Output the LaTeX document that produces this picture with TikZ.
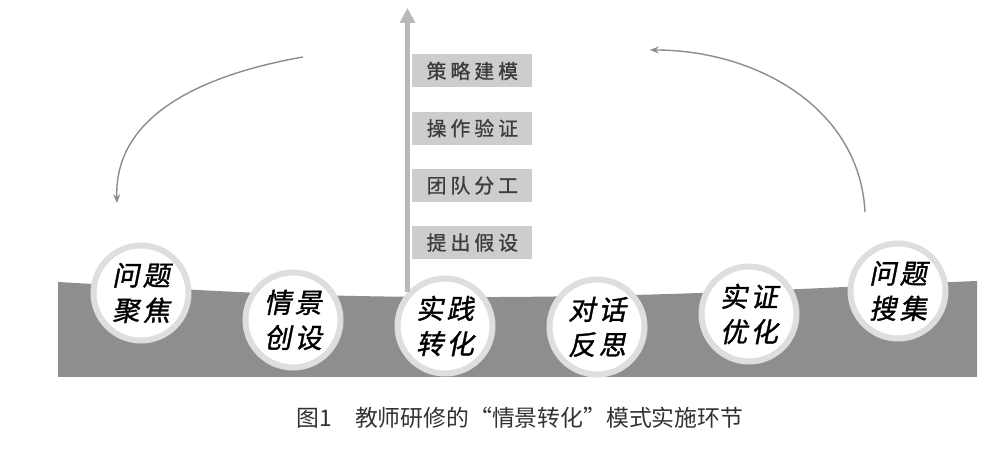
\documentclass[tikz,border=0pt]{standalone}
\usepackage{fontspec}
\usetikzlibrary{positioning,arrows.meta}
\newfontfamily\cjk{Noto Sans CJK SC}
\newfontfamily\cjkit[FakeSlant=0.2,FakeBold=1.2,LetterSpace=12]{Noto Sans CJK SC}
\newfontfamily\cjkbox[FakeBold=0.8,LetterSpace=20]{Noto Sans CJK SC}
\definecolor{bandgray}{RGB}{142,142,142}
\definecolor{halogray}{RGB}{222,222,222}
\definecolor{boxgray}{RGB}{205,205,205}
\definecolor{boxtext}{RGB}{60,60,60}
\definecolor{axisgray}{RGB}{185,185,185}
\definecolor{cyclegray}{RGB}{140,140,140}
\definecolor{captext}{RGB}{50,50,50}

\begin{document}
\begin{tikzpicture}[x=0.2mm, y=0.2mm,
    stage/.style={circle, fill=white, draw=halogray, line width=1.2mm, minimum size=19mm,
        inner sep=0pt, align=center, font=\cjkit\fontsize{15.5}{20}\selectfont},
    stepbox/.style={fill=boxgray, text=boxtext, minimum width=24mm, minimum height=6.6mm,
        inner sep=0pt, font=\cjkbox\fontsize{11.3}{13}\selectfont},
    uparrow/.style={draw=axisgray, line width=1mm, -{Triangle[width=3mm,length=3mm]}},
    cyclearrow/.style={draw=cyclegray, line width=0.8pt, -{Stealth[length=5pt,width=4pt]}}]
    \useasboundingbox (0,0) rectangle (1000,454);

    % Bande grise
    \fill[bandgray] (58,77) -- (58,172) .. controls (200,164) and (300,156) .. (500,157)
        .. controls (700,158) and (850,168) .. (977,173) -- (977,77) -- cycle;

    % Cercles des etapes
    \node[stage] (wtjj) at (141,161) {问题\\聚焦};
    \node[stage] (qjcs) at (293,134) {情景\\创设};
    \node[stage] (sjzh) at (445,128) {实践\\转化};
    \node[stage] (dhfs) at (597,127) {对话\\反思};
    \node[stage] (szyh) at (749,140) {实证\\优化};
    \node[stage] (wtsj) at (898,163) {问题\\搜集};

    % Fleche verticale
    \coordinate (top) at (405,446);
    \draw[uparrow] (sjzh.138) -- (sjzh.138 |- top);

    % Boites
    \node[stepbox, anchor=west] (clbm) at (412,383) {策略建模};
    \node[stepbox, below=4.7mm of clbm] (czyz) {操作验证};
    \node[stepbox, below=4.7mm of czyz] (tdfg) {团队分工};
    \node[stepbox, below=4.7mm of tdfg] (tcjs) {提出假设};

    % Fleches du cycle
    \coordinate (lstart) at (303,397);
    \coordinate (lend) at (117,251);
    \draw[cyclearrow] (lstart) to[out=190, in=92] (lend);
    \coordinate (rstart) at (865,242);
    \coordinate (rend) at (650,404);
    \draw[cyclearrow] (rstart) to[out=93, in=0] (rend);

    % Legende
    \node[font=\cjk\fontsize{13}{15}\selectfont, text=captext] (cap) at (520,36)
        {图1\quad 教师研修的“情景转化”模式实施环节};
\end{tikzpicture}
\end{document}
